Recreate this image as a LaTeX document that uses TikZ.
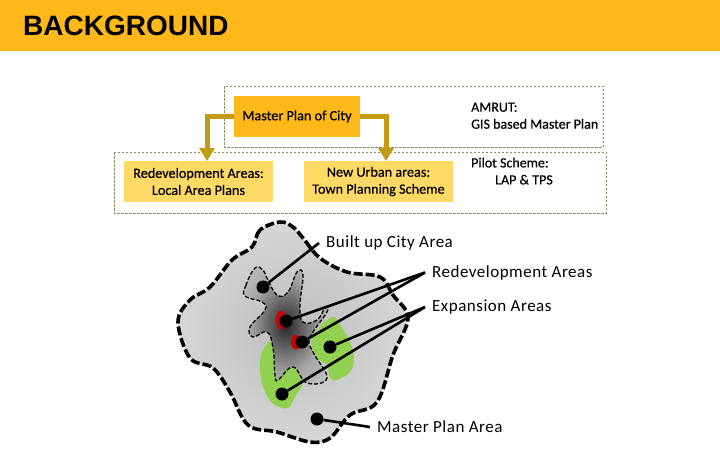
\documentclass[tikz,border=0pt]{standalone}
\usepackage{fontspec}
\setmainfont{Carlito}
\newfontfamily\titlefont{Liberation Sans}
\newfontfamily\plantextfont[FakeBold=0.5]{Carlito}
\newfontfamily\areatextfont[LetterSpace=3]{Carlito}
\usetikzlibrary{arrows.meta}
\definecolor{banneryellow}{HTML}{FFB819}
\definecolor{boxyellow}{HTML}{FFD966}
\definecolor{arrowgold}{HTML}{C39A12}
\definecolor{framegreen}{HTML}{8E8E62}
\definecolor{areagreen}{HTML}{92D050}
\pgfdeclareradialshading{cityshade}{\pgfpoint{0bp}{0bp}}{color(0bp)=(black!85);color(8bp)=(black!65);color(20bp)=(black!36);color(34bp)=(black!22);color(50bp)=(black!18)}
\pgfdeclareradialshading{planshade}{\pgfpoint{0bp}{0bp}}{color(0bp)=(black!26);color(25bp)=(black!16);color(50bp)=(black!7)}
\tikzset{
  planbox/.style={fill=boxyellow,inner sep=0pt,align=center,font=\plantextfont\fontsize{14.2}{17}\selectfont},
  planarrow/.style={draw=arrowgold,line width=5pt,-{Triangle[length=13pt,width=15pt]}},
  dashframe/.style={draw=framegreen,dash pattern=on 2.5pt off 1.5pt,line width=0.7pt},
  sidetext/.style={anchor=north west,inner sep=0pt,align=left,font=\plantextfont\fontsize{14}{17}\selectfont},
  areatext/.style={anchor=west,inner ysep=0pt,inner xsep=7pt,font=\areatextfont\fontsize{17}{20}\selectfont},
  dot/.style={circle,fill=black,inner sep=0pt,minimum size=13pt},
  leader/.style={line width=2.6pt}
}
\begin{document}
\begin{tikzpicture}[x=1pt,y=-1pt]
\useasboundingbox (0,0) rectangle (720,450);
\fill[banneryellow] (0,0) rectangle (720,50.5);
\node[anchor=west,inner sep=0pt,font=\titlefont\bfseries\fontsize{28}{30}\selectfont] (title) at (23,26) {BACKGROUND};

\draw[dashframe] (224,86) rectangle (603,147);
\draw[dashframe] (114,152) rectangle (606,213);
\node[planbox,fill=banneryellow,minimum width=126pt,minimum height=41pt] (master) at (297,116.5) {Master Plan of City};
\node[planbox,minimum width=149pt,minimum height=41pt] (redev) at (198.5,181.5) {Redevelopment Areas:\\Local Area Plans};
\node[planbox,minimum width=149pt,minimum height=41pt] (urban) at (378.5,181.5) {New Urban areas:\\Town Planning Scheme};
\coordinate (redevtop) at (207,161);
\coordinate (urbantop) at (386,161);
\draw[planarrow] (master.west) -| (redevtop);
\draw[planarrow] (master.east) -| (urbantop);
\node[sidetext] (amrut) at (471,102.5) {AMRUT:\\GIS based Master Plan};
\node[sidetext] (pilot) at (471,157.5) {Pilot Scheme:\\\hspace*{24pt}LAP \& TPS};

% master plan area
\path[shading=planshade,draw=black,line width=3.6pt,dash pattern=on 9pt off 3pt] plot[smooth cycle,tension=0.6] coordinates {(280,222) (260,230) (252,247) (232,260) (210,287) (190,300) (178,322) (190,358) (213,368) (230,392) (248,425) (277,432) (310,442) (330,438) (350,415) (377,402) (393,355) (408,318) (393,295) (380,277) (347,272) (320,258) (303,238) (293,227)};
\fill[areagreen] plot[smooth cycle,tension=0.6] coordinates {(272,340) (262,352) (260,372) (265,392) (275,405) (288,408) (295,397) (303,382) (300,360) (285,345)};
\fill[areagreen] plot[smooth cycle,tension=0.6] coordinates {(332,317) (342,328) (350,342) (354,358) (350,372) (337,380) (330,378) (327,365) (317,358) (312,338)};
\path[shading=cityshade,draw=black,line width=1.3pt,dash pattern=on 4pt off 2pt] plot[smooth cycle,tension=0.7] coordinates {(255,268) (246,285) (245,296) (262,302) (265,310) (250,327) (253,337) (267,332) (273,348) (275,375) (278,380) (293,367) (307,383) (327,378) (313,352) (310,338) (327,312) (325,308) (317,320) (303,322) (300,305) (303,275) (297,272) (288,292) (277,295) (267,278) (263,270)};
\fill[red!80!black] (281,320) ellipse (5 and 9.5);
\fill[red!80!black] (296,342) ellipse (5 and 7.5);

\node[dot] (builtdot) at (263,287) {};
\node[dot] (redevdotA) at (286,321) {};
\node[dot] (redevdotB) at (302,342) {};
\node[dot] (expdotA) at (330,347) {};
\node[dot] (expdotB) at (282,394) {};
\node[dot] (plandot) at (317,419) {};
\node[areatext] (builtlabel) at (319,243) {Built up City Area};
\node[areatext] (redevlabel) at (425,272.5) {Redevelopment Areas};
\node[areatext] (explabel) at (425,307) {Expansion Areas};
\node[areatext] (planlabel) at (370,427) {Master Plan Area};
\draw[leader] (builtdot) -- (builtlabel.west);
\draw[leader] (redevdotA) -- (redevlabel.west);
\draw[leader] (redevdotB) -- (redevlabel.west);
\draw[leader] (expdotA) -- (explabel.west);
\draw[leader] (expdotB) -- (explabel.west);
\draw[leader] (plandot) -- (planlabel.west);
\end{tikzpicture}
\end{document}
